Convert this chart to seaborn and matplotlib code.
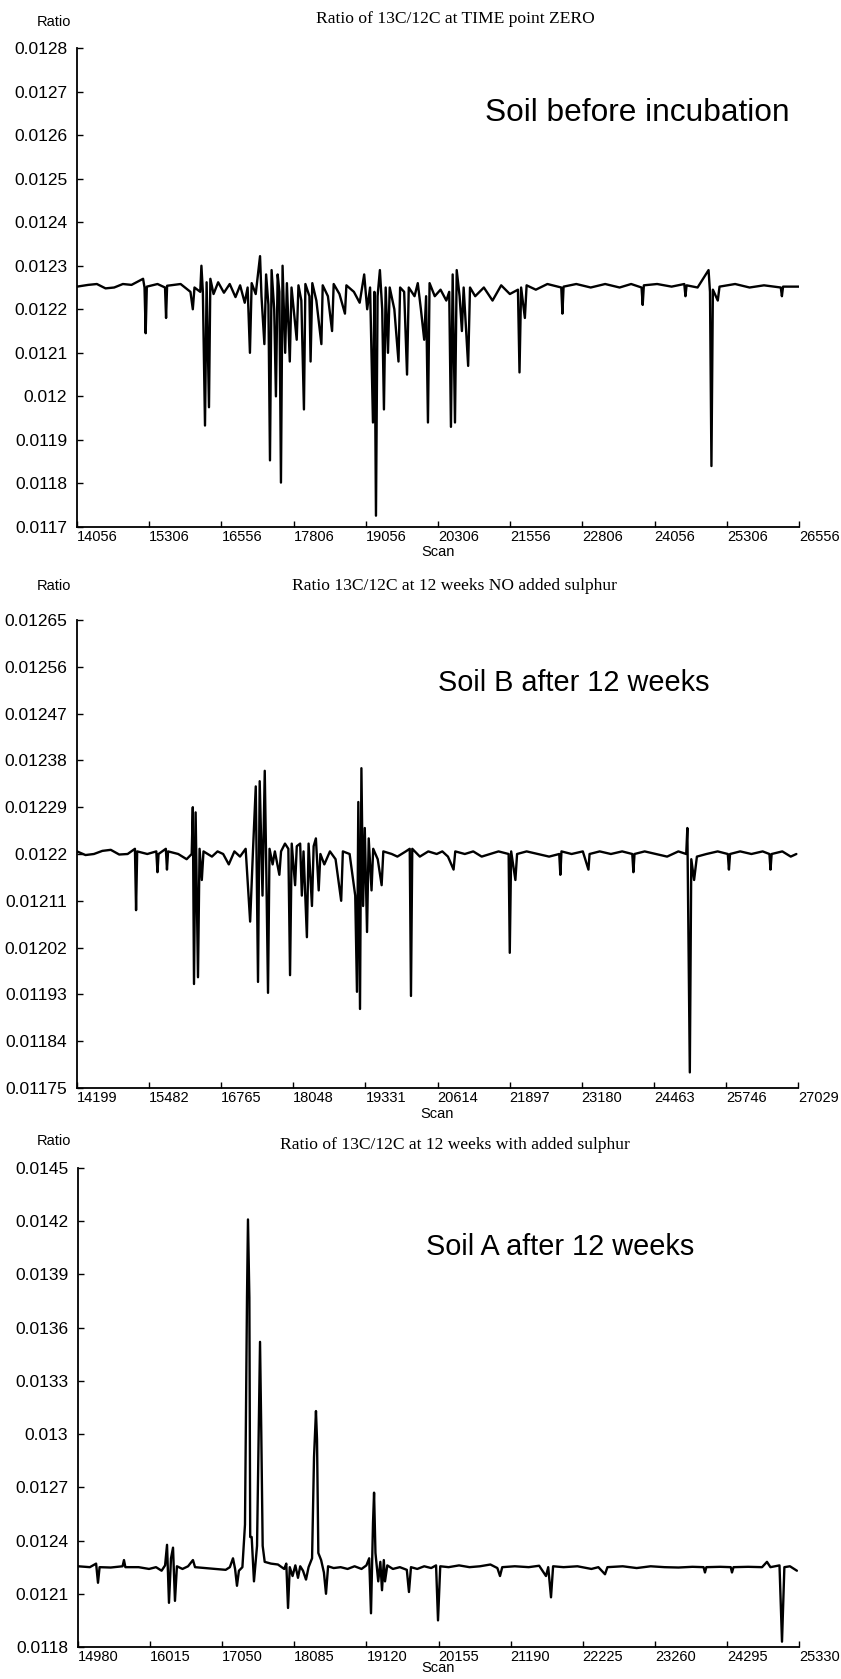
import numpy as np
import pandas as pd
import matplotlib
matplotlib.use("Agg")
import matplotlib.pyplot as plt
import seaborn as sns

# ---------------- data ----------------
p1_scan = [14056, 14250, 14400, 14550, 14700, 14850, 15000, 15200, 15225, 15245, 15265, 15450, 15580, 15598, 15616,
           15850, 16020, 16061, 16090, 16190, 16210, 16235, 16272, 16300, 16341, 16365, 16420,
           16500, 16600, 16700, 16800, 16880, 16960, 17010, 17050, 17080, 17150, 17225, 17250,
           17300, 17330, 17370, 17397, 17425, 17470, 17500, 17530, 17560, 17587, 17615, 17660,
           17690, 17740, 17770, 17860, 17890, 17940, 17985, 18010, 18080, 18100, 18130, 18200,
           18287, 18310, 18400, 18472, 18500, 18600, 18695, 18720, 18850, 18950, 19028, 19080,
           19130, 19180, 19205, 19232, 19260, 19300, 19340, 19370, 19400, 19440, 19470, 19550,
           19622, 19650, 19720, 19770, 19800, 19900, 19956, 20010, 20067, 20100, 20132, 20160,
           20250, 20350, 20450, 20500, 20530, 20560, 20600, 20630, 20680, 20720, 20750, 20828,
           20860, 20950, 21100, 21250, 21400, 21550, 21690, 21717, 21745, 21810, 21840, 22000,
           22200, 22440, 22460, 22480, 22700, 22950, 23200, 23450, 23650, 23830, 23850, 23870,
           24100, 24350, 24570, 24590, 24610, 24800, 24990, 25015, 25040, 25065, 25150, 25180,
           25450, 25700, 25950, 26240, 26260, 26280, 26556]
p1_ratio = [.012252, .012256, .012258, .012248, .012250, .012258, .012256, .012270, .012250, .012145, .012252, .012258, .012250, .012180, .012254,
            .012258, .012240, .012200, .012250, .012240, .012300, .012240, .011933, .012262, .011975, .012270, .012235,
            .012262, .012238, .012258, .012228, .012255, .012215, .012250, .012100, .012260, .012235, .012322, .012230,
            .012120, .012280, .012210, .011853, .012290, .012200, .012000, .012280, .012240, .011802, .012300, .012100,
            .012260, .012080, .012250, .012130, .012255, .012220, .011970, .012258, .012230, .012080, .012260, .012220,
            .012120, .012255, .012230, .012150, .012258, .012235, .012190, .012255, .012240, .012215, .012280, .012200,
            .012250, .011940, .012240, .011726, .012230, .012290, .012200, .011970, .012250, .012100, .012250, .012200,
            .012080, .012250, .012240, .012050, .012250, .012230, .012260, .012200, .012130, .012230, .011940, .012260,
            .012230, .012245, .012220, .012240, .011930, .012280, .011940, .012290, .012230, .012150, .012250, .012070,
            .012250, .012230, .012250, .012220, .012255, .012235, .012245, .012055, .012250, .012180, .012255, .012245,
            .012258, .012250, .012190, .012252, .012258, .012250, .012258, .012250, .012258, .012250, .012210, .012255,
            .012258, .012252, .012258, .012230, .012255, .012250, .012290, .012240, .011840, .012245, .012220, .012252,
            .012258, .012250, .012255, .012250, .012230, .012252, .012252]

p2_scan = [14199, 14350, 14500, 14650, 14800, 14950, 15100, 15230, 15250, 15270, 15450, 15610, 15631, 15650, 15780,
           15800, 15820, 16000, 16150, 16240, 16260, 16281, 16310, 16352, 16380, 16420, 16450,
           16600, 16700, 16800, 16900, 17000, 17100, 17200, 17280, 17330, 17380, 17420, 17450,
           17500, 17540, 17570, 17598, 17625, 17680, 17720, 17800, 17830, 17900, 17960, 17990,
           18020, 18080, 18110, 18170, 18200, 18230, 18290, 18320, 18380, 18410, 18450, 18500,
           18530, 18600, 18700, 18800, 18900, 18930, 19050, 19150, 19181, 19205, 19235, 19260,
           19290, 19320, 19360, 19390, 19440, 19470, 19550, 19620, 19650, 19800, 19900, 20050,
           20120, 20142, 20165, 20300, 20450, 20600, 20700, 20800, 20900, 20930, 21100, 21250,
           21400, 21550, 21700, 21880, 21900, 21925, 22000, 22030, 22200, 22400, 22600, 22780,
           22800, 22820, 23000, 23200, 23300, 23320, 23500, 23700, 23900, 24080, 24100, 24120,
           24300, 24500, 24700, 24900, 25040, 25060, 25090, 25104, 25130, 25180, 25230, 25400,
           25600, 25780, 25800, 25820, 26000, 26200, 26400, 26520, 26540, 26560, 26750, 26900,
           27000]
p2_ratio = [.012205, .012198, .012200, .012206, .012208, .012199, .012200, .012210, .012092, .012205, .012200, .012205, .012165, .012200, .012210,
            .012170, .012205, .012200, .012190, .012200, .012290, .011950, .012280, .011963, .012210, .012150, .012205,
            .012195, .012205, .012200, .012180, .012205, .012195, .012210, .012070, .012205, .012330, .011954, .012340,
            .012120, .012360, .012150, .011933, .012210, .012180, .012205, .012160, .012205, .012220, .012210, .011967,
            .012220, .012140, .012215, .012220, .012120, .012205, .012040, .012220, .012100, .012215, .012230, .012130,
            .012200, .012180, .012205, .012190, .012110, .012205, .012200, .012120, .011935, .012300, .011902, .012365,
            .012100, .012250, .012050, .012230, .012130, .012210, .012190, .012140, .012205, .012200, .012195, .012205,
            .012210, .011927, .012210, .012195, .012205, .012200, .012205, .012195, .012170, .012205, .012200, .012205,
            .012195, .012200, .012205, .012200, .012010, .012205, .012150, .012200, .012205, .012200, .012195, .012200,
            .012160, .012205, .012200, .012205, .012170, .012200, .012205, .012200, .012205, .012200, .012165, .012200,
            .012205, .012200, .012195, .012205, .012200, .012250, .011930, .011780, .012190, .012150, .012195, .012200,
            .012205, .012200, .012170, .012200, .012205, .012200, .012205, .012200, .012170, .012200, .012205, .012195,
            .012200]

p3_scan = [14980, 15150, 15240, 15267, 15290, 15450, 15620, 15640, 15660, 15850, 16000, 16100,
           16180, 16230, 16258, 16286, 16315, 16344, 16372, 16400, 16480, 16560, 16630, 16660,
           16800, 16950, 17100, 17160, 17205, 17235, 17262, 17290, 17340, 17377, 17406, 17420,
           17440, 17452, 17473, 17506, 17550, 17574, 17593, 17611, 17631, 17660, 17750, 17850,
           17940, 17970, 17995, 18020, 18060, 18100, 18138, 18170, 18210, 18253, 18290, 18340,
           18368, 18396, 18411, 18430, 18470, 18510, 18540, 18570, 18650, 18750, 18850, 18950,
           19050, 19120, 19160, 19186, 19215, 19230, 19250, 19290, 19320, 19344, 19370, 19387,
           19420, 19500, 19600, 19700, 19731, 19760, 19850, 19950, 20050, 20120, 20148, 20180,
           20300, 20450, 20600, 20750, 20900, 21000, 21038, 21070, 21250, 21450, 21600, 21698,
           21730, 21770, 21800, 21950, 22150, 22350, 22450, 22545, 22580, 22800, 23000, 23200,
           23400, 23600, 23800, 23960, 23980, 24000, 24200, 24350, 24368, 24390, 24600, 24800,
           24870, 24920, 25050, 25086, 25120, 25200, 25300]
p3_ratio = [.012255, .012250, .012270, .012162, .012250, .012248, .012255, .012290, .012250, .012250, .012240, .012250,
            .012230, .012260, .012376, .012049, .012300, .012360, .012060, .012255, .012240, .012255, .012290, .012250,
            .012245, .012240, .012235, .012250, .012300, .012240, .012145, .012230, .012250, .012490, .013770, .014210,
            .013770, .012420, .012420, .012170, .012370, .013010, .013520, .013010, .012370, .012280, .012270, .012265,
            .012240, .012270, .012020, .012250, .012200, .012260, .012190, .012255, .012230, .012180, .012250, .012300,
            .012870, .013130, .012970, .012330, .012290, .012220, .012100, .012255, .012245, .012250, .012240, .012255,
            .012240, .012260, .012300, .011990, .012500, .012670, .012330, .012170, .012280, .012120, .012290, .012170,
            .012260, .012240, .012250, .012235, .012110, .012250, .012240, .012255, .012245, .012260, .011950, .012255,
            .012250, .012260, .012250, .012255, .012265, .012245, .012200, .012250, .012255, .012250, .012258, .012200,
            .012250, .012080, .012255, .012250, .012255, .012240, .012250, .012210, .012250, .012255, .012245, .012255,
            .012250, .012248, .012252, .012250, .012220, .012250, .012252, .012250, .012220, .012250, .012252, .012250,
            .012280, .012250, .012260, .011830, .012250, .012255, .012230]

p1_xticks = [14056, 15306, 16556, 17806, 19056, 20306, 21556, 22806, 24056, 25306, 26556]
p2_xticks = [14199, 15482, 16765, 18048, 19331, 20614, 21897, 23180, 24463, 25746, 27029]
p3_xticks = [14980, 16015, 17050, 18085, 19120, 20155, 21190, 22225, 23260, 24295, 25330]

p1_yticks = [0.0117, 0.0118, 0.0119, 0.012, 0.0121, 0.0122, 0.0123, 0.0124, 0.0125, 0.0126, 0.0127, 0.0128]
p1_ylabels = ["0.0117", "0.0118", "0.0119", "0.012", "0.0121", "0.0122", "0.0123", "0.0124", "0.0125",
              "0.0126", "0.0127", "0.0128"]
p2_yticks = [0.01175, 0.01184, 0.01193, 0.01202, 0.01211, 0.0122, 0.01229, 0.01238, 0.01247, 0.01256, 0.01265]
p2_ylabels = ["0.01175", "0.01184", "0.01193", "0.01202", "0.01211", "0.0122", "0.01229", "0.01238",
              "0.01247", "0.01256", "0.01265"]
p3_yticks = [0.0118, 0.0121, 0.0124, 0.0127, 0.013, 0.0133, 0.0136, 0.0139, 0.0142, 0.0145]
p3_ylabels = ["0.0118", "0.0121", "0.0124", "0.0127", "0.013", "0.0133", "0.0136", "0.0139", "0.0142", "0.0145"]

titles = ["Ratio of 13C/12C at TIME point ZERO",
          "Ratio 13C/12C at 12 weeks NO added sulphur",
          "Ratio of 13C/12C at 12 weeks with added sulphur"]
notes = ["Soil before incubation", "Soil B after 12 weeks", "Soil A after 12 weeks"]

# ---------------- layout (pixels of 841 x 1679) ----------------
W, H = 841, 1679
sns.set_style("white")
plt.rcParams['font.family'] = ['Liberation Sans', 'DejaVu Sans']
plt.rcParams['text.color'] = 'black'
fig = plt.figure(figsize=(W / 100, H / 100), dpi=100)

panels = [
    dict(scan=p1_scan, ratio=p1_ratio, xt=p1_xticks, yt=p1_yticks, yl=p1_ylabels,
         box=(77, 48, 799, 527), title_y=19, ratio_y=22, scan_y=552, note=(0.565, 0.864), nfs=22.8),
    dict(scan=p2_scan, ratio=p2_ratio, xt=p2_xticks, yt=p2_yticks, yl=p2_ylabels,
         box=(77, 620, 798, 1088), title_y=586, ratio_y=586, scan_y=1114, note=(0.50, 0.865), nfs=20.8),
    dict(scan=p3_scan, ratio=p3_ratio, xt=p3_xticks, yt=p3_yticks, yl=p3_ylabels,
         box=(78, 1168, 799, 1647), title_y=1145, ratio_y=1141, scan_y=1668, note=(0.482, 0.836), nfs=20.8),
]

for i, p in enumerate(panels):
    x0, y0, x1, y1 = p["box"]
    ax = fig.add_axes([x0 / W, 1 - y1 / H, (x1 - x0) / W, (y1 - y0) / H])
    df = pd.DataFrame({"Scan": p["scan"], "Ratio": p["ratio"]})
    sns.lineplot(data=df, x="Scan", y="Ratio", ax=ax, color="black", linewidth=1.7,
                 estimator=None, sort=True)
    ax.set_xlim(p["xt"][0], p["xt"][-1])
    ax.set_ylim(p["yt"][0], p["yt"][-1])
    ax.set_xticks(p["xt"])
    ax.set_xticklabels([str(v) for v in p["xt"]], fontsize=10.5)
    for lab in ax.get_xticklabels():
        lab.set_horizontalalignment("left")
    ax.set_yticks(p["yt"])
    ax.set_yticklabels(p["yl"], fontsize=12.5)
    ax.set_xlabel("")
    ax.set_ylabel("")
    for s in ["top", "right"]:
        ax.spines[s].set_visible(False)
    for s in ["left", "bottom"]:
        ax.spines[s].set_color("black")
        ax.spines[s].set_linewidth(1.3)
    ax.tick_params(axis="both", direction="in", length=4, width=1, colors="black",
                   bottom=True, left=True, top=False, right=False)
    ax.tick_params(axis="x", pad=2)
    ax.tick_params(axis="y", pad=7)
    ax.patch.set_alpha(0)

    fig.text(455 / W, 1 - p["title_y"] / H, titles[i], ha="center", va="center",
             fontsize=12.6, family=["Liberation Serif", "DejaVu Serif"], color="black")
    fig.text(54 / W, 1 - p["ratio_y"] / H, "Ratio", ha="center", va="center", fontsize=10.5, color="black")
    fig.text((x0 + x1) / 2 / W, 1 - p["scan_y"] / H, "Scan", ha="center", va="center", fontsize=10.5,
             color="black")
    ax.text(p["note"][0], p["note"][1], notes[i], transform=ax.transAxes, ha="left", va="center",
            fontsize=p["nfs"], color="black")

fig.savefig("out.png", dpi=100)
